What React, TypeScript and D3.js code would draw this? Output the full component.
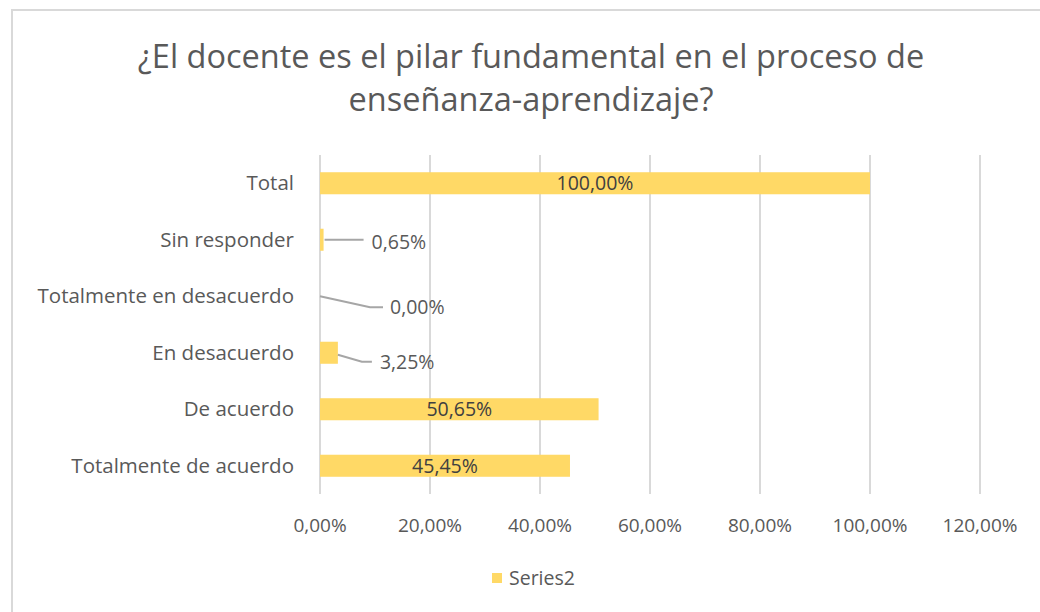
import React, { useEffect, useRef } from 'react';
import * as d3 from 'd3';

const categories = ["Total", "Sin responder", "Totalmente en desacuerdo", "En desacuerdo", "De acuerdo", "Totalmente de acuerdo"];
const values = [100, 0.65, 0, 3.25, 50.65, 45.45];
const xTicks = [0, 20, 40, 60, 80, 100, 120];
const titleLines = ["¿El docente es el pilar fundamental en el proceso de", "enseñanza-aprendizaje?"];
const seriesName = "Series2";

const width = 1040;
const height = 612;
const margin = { top: 155, right: 60, bottom: 118, left: 320 };
const font = "'Open Sans', sans-serif";
const textColor = "#595959";
const barColor = "#FFD966";

const fmt = (v: number) => v.toFixed(2).replace(".", ",") + "%";

function App() {
    const svgRef = useRef<SVGSVGElement>(null);

    useEffect(() => {
        const svg = d3.select(svgRef.current);
        svg.selectAll("*").remove();

        const xScale = d3.scaleLinear()
            .domain([0, 120])
            .range([margin.left, margin.left + 660]);

        const yScale = d3.scaleBand()
            .domain(categories)
            .range([margin.top, height - margin.bottom])
            .paddingInner(0.61)
            .paddingOuter(0.305);

        // chart border (top and left only visible)
        svg.append("path")
            .attr("d", "M12,612 L12,10 L1040,10")
            .attr("fill", "none")
            .attr("stroke", "#d9d9d9")
            .attr("stroke-width", 2);

        // title
        svg.selectAll(".title")
            .data(titleLines)
            .join("text")
            .attr("class", "title")
            .attr("x", 531)
            .attr("y", (d, i) => 68 + i * 43)
            .attr("text-anchor", "middle")
            .attr("font-family", font)
            .attr("font-size", 32.5)
            .attr("fill", textColor)
            .text(d => d);

        // gridlines
        svg.selectAll(".grid")
            .data(xTicks)
            .join("line")
            .attr("class", "grid")
            .attr("x1", d => xScale(d))
            .attr("x2", d => xScale(d))
            .attr("y1", margin.top)
            .attr("y2", height - margin.bottom)
            .attr("stroke", "#d9d9d9")
            .attr("stroke-width", 2);

        // x tick labels
        svg.selectAll(".xlabel")
            .data(xTicks)
            .join("text")
            .attr("class", "xlabel")
            .attr("x", d => xScale(d))
            .attr("y", 525)
            .attr("dy", "0.35em")
            .attr("text-anchor", "middle")
            .attr("font-family", font)
            .attr("font-size", 19)
            .attr("fill", textColor)
            .text(d => fmt(d));

        // y category labels
        svg.selectAll(".ylabel")
            .data(categories)
            .join("text")
            .attr("class", "ylabel")
            .attr("x", margin.left - 26)
            .attr("y", d => yScale(d)! + yScale.bandwidth() / 2)
            .attr("dy", "0.35em")
            .attr("text-anchor", "end")
            .attr("font-family", font)
            .attr("font-size", 20.5)
            .attr("fill", textColor)
            .text(d => d);

        const data = categories.map((c, i) => ({ cat: c, value: values[i] }));

        // bars
        svg.selectAll(".bar")
            .data(data)
            .join("rect")
            .attr("class", "bar")
            .attr("x", xScale(0))
            .attr("y", d => yScale(d.cat)!)
            .attr("width", d => xScale(d.value) - xScale(0))
            .attr("height", yScale.bandwidth())
            .attr("fill", barColor);

        // data labels
        data.forEach(d => {
            const cy = yScale(d.cat)! + yScale.bandwidth() / 2;
            const xe = xScale(d.value);
            if (d.value > 10) {
                svg.append("text")
                    .attr("x", (xScale(0) + xe) / 2)
                    .attr("y", cy)
                    .attr("dy", "0.35em")
                    .attr("text-anchor", "middle")
                    .attr("font-family", font)
                    .attr("font-size", 19.5)
                    .attr("fill", "#404040")
                    .text(fmt(d.value));
                return;
            }
            let pts: [number, number][];
            let tx: number, ty: number;
            if (d.value === 0) {
                pts = [[xe, cy], [xe + 50, cy + 11], [xe + 63, cy + 11]];
                tx = xe + 70; ty = cy + 11;
            } else if (d.value < 1) {
                pts = [[xe + 1, cy], [xe + 40, cy]];
                tx = xe + 48; ty = cy + 2;
            } else {
                pts = [[xe, cy + 2], [xe + 24, cy + 9], [xe + 34, cy + 9]];
                tx = xe + 42; ty = cy + 9;
            }
            svg.append("path")
                .attr("d", d3.line()(pts))
                .attr("fill", "none")
                .attr("stroke", "#a6a6a6")
                .attr("stroke-width", 2);
            svg.append("text")
                .attr("x", tx)
                .attr("y", ty)
                .attr("dy", "0.35em")
                .attr("font-family", font)
                .attr("font-size", 19.5)
                .attr("fill", textColor)
                .text(fmt(d.value));
        });

        // legend
        svg.append("rect")
            .attr("x", 492)
            .attr("y", 573)
            .attr("width", 10)
            .attr("height", 10)
            .attr("fill", barColor);
        svg.append("text")
            .attr("x", 509)
            .attr("y", 578)
            .attr("dy", "0.35em")
            .attr("font-family", font)
            .attr("font-size", 19.5)
            .attr("fill", textColor)
            .text(seriesName);
    }, []);

    return (
        <div style={{ position: "absolute", left: 0, top: 0 }}>
            <svg ref={svgRef} width={width} height={height} style={{ display: "block", background: "#fff" }}></svg>
        </div>
    );
}

export default App;
